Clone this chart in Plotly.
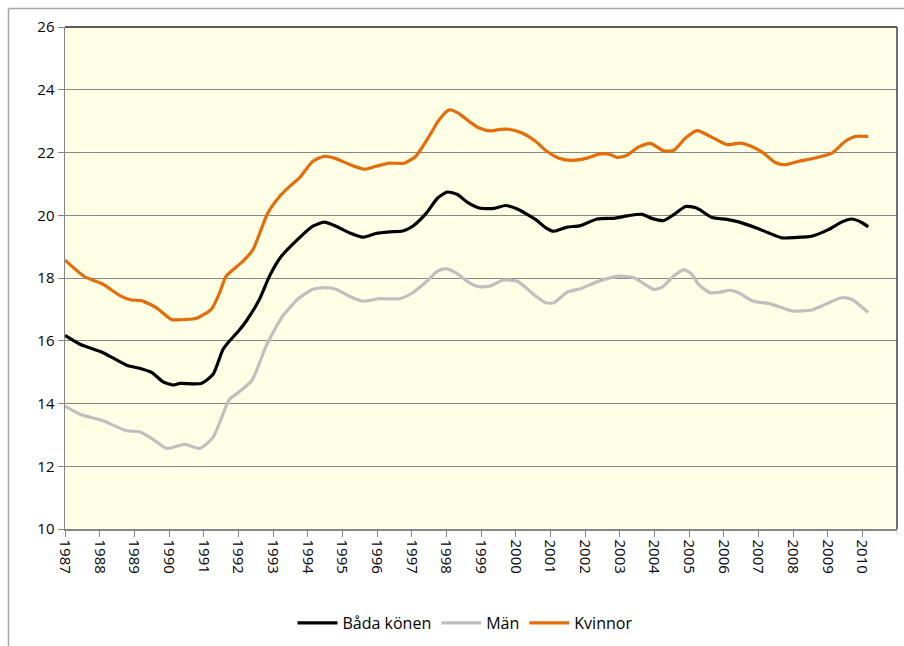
import plotly.graph_objects as go

# ---- data ----
years = list(range(1987, 2011))
year_labels = [str(y) for y in years]

bada_x = [1987.00, 1987.43, 1988.10, 1988.78, 1989.20, 1989.50, 1989.83, 1990.12, 1990.31, 1990.93,
          1991.27, 1991.56, 1991.75, 1992.00, 1992.23, 1992.61, 1992.90, 1993.24, 1993.76, 1994.15,
          1994.48, 1994.82, 1995.20, 1995.59, 1995.97, 1996.36, 1996.74, 1997.03, 1997.41, 1997.75,
          1998.03, 1998.32, 1998.61, 1998.95, 1999.38, 1999.71, 2000.05, 2000.58, 2000.87, 2001.10,
          2001.49, 2001.87, 2002.35, 2002.88, 2003.21, 2003.65, 2003.93, 2004.27, 2004.56, 2004.90,
          2005.18, 2005.33, 2005.66, 2006.09, 2006.43, 2006.91, 2007.29, 2007.68, 2008.06, 2008.54,
          2009.02, 2009.40, 2009.69, 2009.98, 2010.17]
bada_y = [16.17, 15.89, 15.62, 15.22, 15.11, 14.99, 14.69, 14.59, 14.64, 14.64,
          14.93, 15.73, 16.00, 16.30, 16.63, 17.32, 18.06, 18.69, 19.28, 19.65,
          19.78, 19.65, 19.44, 19.30, 19.42, 19.47, 19.50, 19.65, 20.05, 20.55,
          20.74, 20.66, 20.41, 20.23, 20.22, 20.31, 20.20, 19.86, 19.60, 19.49,
          19.62, 19.67, 19.88, 19.91, 19.98, 20.03, 19.90, 19.83, 20.02, 20.28,
          20.25, 20.16, 19.93, 19.87, 19.79, 19.61, 19.44, 19.28, 19.29, 19.33,
          19.54, 19.78, 19.88, 19.77, 19.63]

man_x = [1987.00, 1987.43, 1988.10, 1988.78, 1989.15, 1989.54, 1989.93, 1990.45, 1990.89, 1991.27,
         1991.75, 1992.00, 1992.40, 1992.80, 1993.28, 1993.76, 1994.15, 1994.44, 1994.82, 1995.20,
         1995.59, 1996.07, 1996.64, 1997.03, 1997.41, 1997.75, 1997.99, 1998.27, 1998.66, 1998.95,
         1999.28, 1999.62, 2000.05, 2000.58, 2000.87, 2001.10, 2001.49, 2001.87, 2002.40, 2002.98,
         2003.41, 2003.74, 2003.98, 2004.22, 2004.56, 2004.85, 2005.09, 2005.28, 2005.61, 2005.90,
         2006.19, 2006.43, 2006.86, 2007.29, 2007.68, 2007.97, 2008.54, 2008.93, 2009.40, 2009.69,
         2010.17]
man_y = [13.92, 13.66, 13.45, 13.13, 13.10, 12.86, 12.57, 12.70, 12.57, 12.92,
         14.14, 14.35, 14.75, 15.83, 16.79, 17.37, 17.64, 17.69, 17.64, 17.42,
         17.26, 17.34, 17.34, 17.53, 17.87, 18.22, 18.29, 18.17, 17.85, 17.72,
         17.75, 17.93, 17.90, 17.42, 17.21, 17.21, 17.55, 17.66, 17.90, 18.06,
         18.01, 17.79, 17.64, 17.70, 18.06, 18.27, 18.11, 17.79, 17.53, 17.55,
         17.61, 17.53, 17.26, 17.19, 17.05, 16.95, 16.98, 17.16, 17.37, 17.32,
         16.90]

kvinnor_x = [1987.00, 1987.57, 1988.10, 1988.58, 1988.92, 1989.20, 1989.64, 1990.07, 1990.50, 1990.79,
             1991.22, 1991.45, 1991.65, 1992.13, 1992.42, 1992.85, 1993.19, 1993.48, 1993.76, 1994.15,
             1994.48, 1994.77, 1995.30, 1995.64, 1995.97, 1996.36, 1996.79, 1997.12, 1997.50, 1997.79,
             1998.08, 1998.32, 1998.66, 1998.95, 1999.28, 1999.57, 1999.81, 2000.19, 2000.58, 2000.91,
             2001.25, 2001.63, 2002.06, 2002.40, 2002.69, 2002.93, 2003.21, 2003.55, 2003.89, 2004.27,
             2004.56, 2004.90, 2005.23, 2005.71, 2006.09, 2006.48, 2006.81, 2007.15, 2007.49, 2007.77,
             2008.16, 2008.54, 2009.12, 2009.50, 2009.79, 2010.17]
kvinnor_y = [18.57, 18.04, 17.80, 17.44, 17.30, 17.28, 17.05, 16.68, 16.68, 16.72,
             17.00, 17.50, 18.06, 18.53, 18.90, 20.07, 20.60, 20.92, 21.19, 21.72,
             21.88, 21.82, 21.58, 21.47, 21.56, 21.66, 21.66, 21.88, 22.51, 23.04,
             23.36, 23.27, 22.99, 22.78, 22.69, 22.74, 22.74, 22.62, 22.35, 22.03,
             21.82, 21.75, 21.82, 21.95, 21.95, 21.84, 21.91, 22.18, 22.29, 22.05,
             22.07, 22.46, 22.70, 22.46, 22.25, 22.30, 22.19, 21.98, 21.68, 21.61,
             21.72, 21.80, 21.98, 22.35, 22.51, 22.51]

series = [
    ("Båda könen", bada_x, bada_y, "#000000"),
    ("Män", man_x, man_y, "#BFBFBF"),
    ("Kvinnor", kvinnor_x, kvinnor_y, "#E46C0A"),
]

FONT = "Open Sans"

fig = go.Figure()
for name, xs, ys, col in series:
    fig.add_trace(go.Scatter(
        x=xs, y=ys, name=name, mode="lines",
        line=dict(color=col, width=3.2, shape="spline", smoothing=0.6),
    ))

W, H = 904, 646
L, R, T, B = 65, 7, 27, 116
pw, ph = W - L - R, H - T - B

def px2paper_x(px):
    return (px - L) / pw

def py2paper_y(py):
    return (H - B - py) / ph

fig.update_layout(
    width=W, height=H,
    margin=dict(l=L, r=R, t=T, b=B),
    paper_bgcolor="white",
    plot_bgcolor="#FFFFE5",
    font=dict(family=FONT, size=15, color="#000000"),
    showlegend=True,
    legend=dict(
        orientation="h",
        x=px2paper_x(465), xanchor="center",
        y=py2paper_y(623), yanchor="middle",
        font=dict(family=FONT, size=16),
        itemwidth=40,
        tracegroupgap=0,
        bgcolor="rgba(0,0,0,0)",
    ),
    xaxis=dict(
        range=[1987, 2011],
        tickmode="array", tickvals=years, ticktext=year_labels,
        tickangle=90,
        ticks="outside", ticklen=6, tickcolor="#868686", tickwidth=1,
        showgrid=False, zeroline=False,
        showline=True, linecolor="#868686", linewidth=1.5,
        tickfont=dict(family=FONT, size=15),
        fixedrange=True,
    ),
    yaxis=dict(
        range=[10, 26], dtick=2, tick0=10,
        ticks="outside", ticklen=6, tickcolor="#868686", tickwidth=1,
        showgrid=True, gridcolor="#868686", gridwidth=1,
        zeroline=False,
        showline=True, linecolor="#868686", linewidth=1.5,
        tickfont=dict(family=FONT, size=15),
        fixedrange=True,
    ),
    shapes=[
        # plot-area top and right border
        dict(type="line", xref="paper", yref="paper", x0=0, x1=1, y0=1, y1=1,
             line=dict(color="#262626", width=1.5)),
        dict(type="line", xref="paper", yref="paper", x0=1, x1=1, y0=0, y1=1,
             line=dict(color="#404040", width=1.5)),
        # chart-area frame (left and top)
        dict(type="line", xref="paper", yref="paper",
             x0=px2paper_x(8.5), x1=px2paper_x(8.5), y0=py2paper_y(8.5), y1=py2paper_y(660),
             line=dict(color="#A6A6A6", width=1.5)),
        dict(type="line", xref="paper", yref="paper",
             x0=px2paper_x(8.5), x1=px2paper_x(920), y0=py2paper_y(8.5), y1=py2paper_y(8.5),
             line=dict(color="#A6A6A6", width=1.5)),
    ],
)

fig.write_html(
    "out.html",
    config={"displayModeBar": False, "staticPlot": True},
    post_script="document.body.style.margin='0';document.body.style.overflow='hidden';",
)
